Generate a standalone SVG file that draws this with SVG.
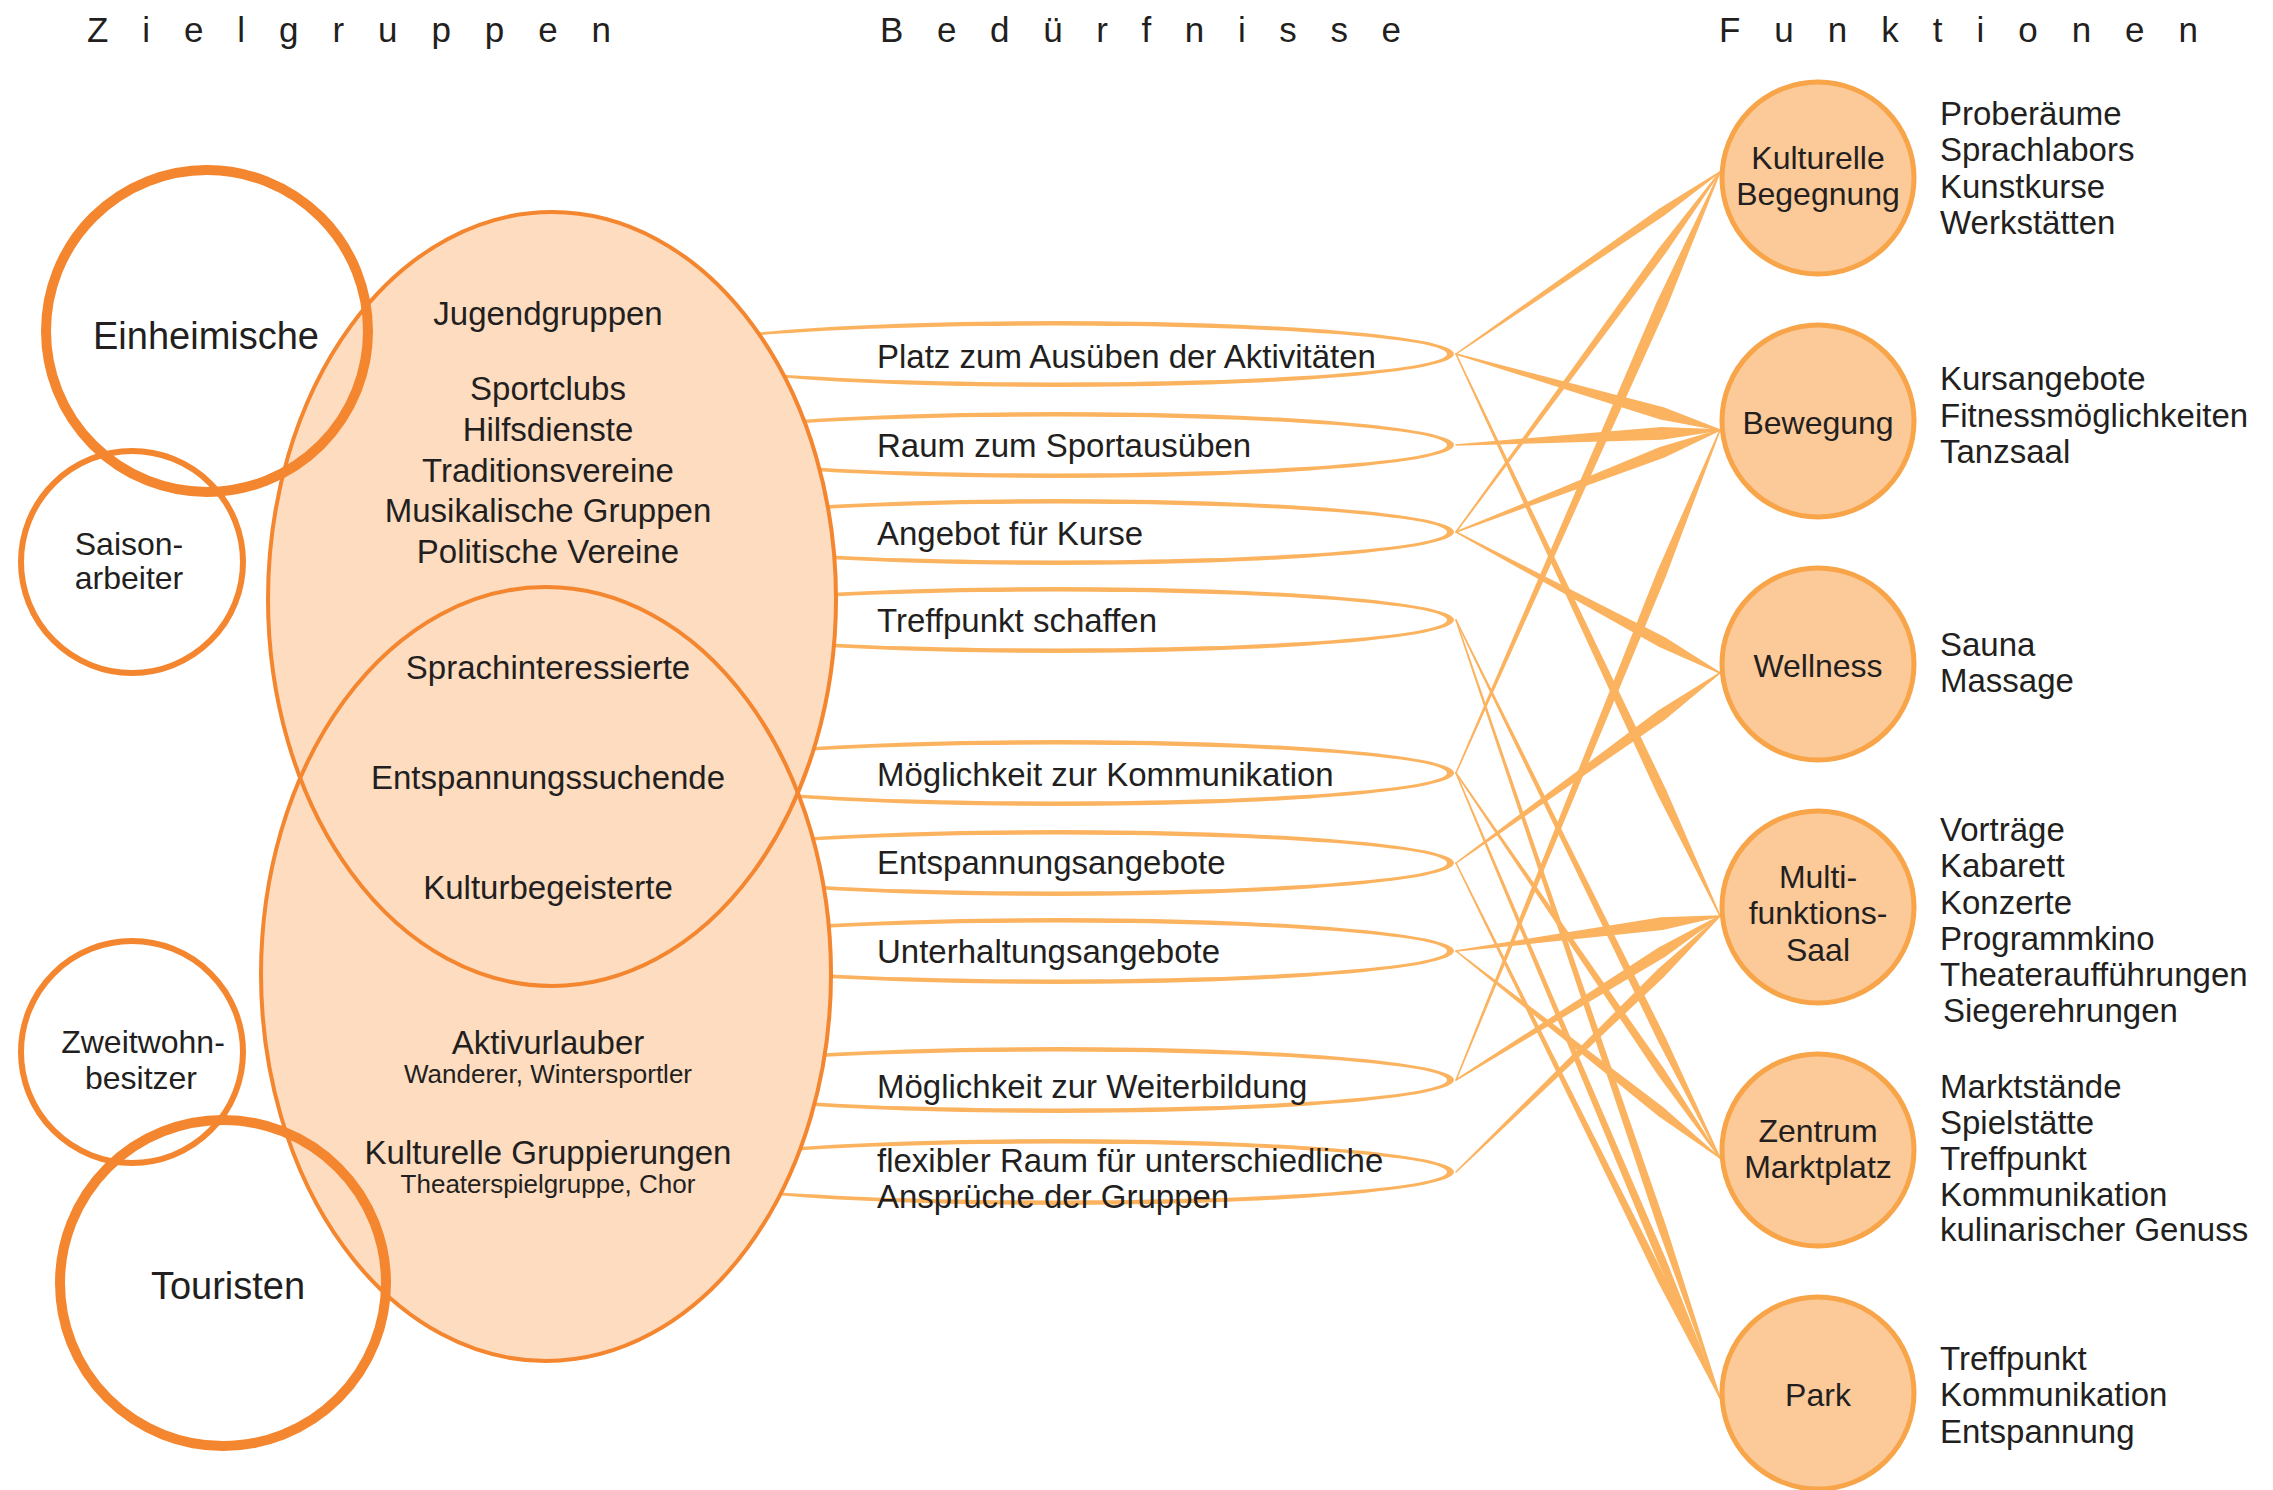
<svg xmlns="http://www.w3.org/2000/svg" width="2273" height="1490" viewBox="0 0 2273 1490">
<defs>
<style>
.t{font-family:"Liberation Sans",Arial,sans-serif;fill:#231F20}
.hd{font-size:35px}
.g{font-size:33px;text-anchor:middle}
.gs{font-size:26px;text-anchor:middle}
.zg{font-size:38px;text-anchor:middle}
.zs{font-size:32px;text-anchor:middle}
.nd{font-size:33px}
.fn{font-size:32px;text-anchor:middle}
.ls{font-size:33px}
.ring{fill:none;stroke:#F4862F}
.big{fill:#FDDCC0}
.bigs{fill:none;stroke:#F4862F;stroke-width:4}
.need{fill:#FBB360;fill-rule:evenodd}
.con{fill:#FBB360;stroke:#FBB360;stroke-width:1.5;stroke-linejoin:round}
.fc{fill:#FCC998;stroke:#F8A449;stroke-width:5}
</style>
<path id="needring" d="M662,0 A396,33 0 1 0 1454,0 A396,33 0 1 0 662,0 Z M662,0 A392.5,28.5 0 1 0 1447,0 A392.5,28.5 0 1 0 662,0 Z"/>
</defs>
<rect width="2273" height="1490" fill="#FFFFFF"/>

<g id="headers">
<text class="t hd" x="87" y="42" textLength="524" lengthAdjust="spacing">Zielgruppen</text>
<text class="t hd" x="880" y="42" textLength="521" lengthAdjust="spacing">Bedürfnisse</text>
<text class="t hd" x="1719" y="42" textLength="479" lengthAdjust="spacing">Funktionen</text>
</g>

<g id="needs">
<use href="#needring" class="need" transform="translate(0,354)"/>
<use href="#needring" class="need" transform="translate(0,445)"/>
<use href="#needring" class="need" transform="translate(0,532)"/>
<use href="#needring" class="need" transform="translate(0,620)"/>
<use href="#needring" class="need" transform="translate(0,773)"/>
<use href="#needring" class="need" transform="translate(0,863)"/>
<use href="#needring" class="need" transform="translate(0,951)"/>
<use href="#needring" class="need" transform="translate(0,1080)"/>
<use href="#needring" class="need" transform="translate(0,1172)"/>
</g>

<g id="zielgruppen-ellipsen">
<ellipse class="big" cx="552" cy="599" rx="284" ry="387"/>
<ellipse class="big" cx="546" cy="974" rx="285" ry="387"/>
<ellipse class="bigs" cx="552" cy="599" rx="284" ry="387"/>
<ellipse class="bigs" cx="546" cy="974" rx="285" ry="387"/>
</g>

<g id="node-einheimische">
<circle class="ring" cx="207" cy="331" r="161" stroke-width="10"/>
<text class="t zg" x="206" y="349">Einheimische</text>
</g>
<g id="node-saisonarbeiter">
<circle class="ring" cx="132" cy="562" r="111" stroke-width="6"/>
<text class="t zs" x="129" y="555">Saison-</text>
<text class="t zs" x="129" y="589">arbeiter</text>
</g>
<g id="node-zweitwohnbesitzer">
<circle class="ring" cx="132" cy="1052" r="111" stroke-width="6"/>
<text class="t zs" x="143" y="1053">Zweitwohn-</text>
<text class="t zs" x="141" y="1089">besitzer</text>
</g>
<g id="node-touristen">
<circle class="ring" cx="223" cy="1283" r="163" stroke-width="10"/>
<text class="t zg" x="228" y="1299">Touristen</text>
</g>

<g id="gruppen-texte">
<text class="t g" x="548" y="325">Jugendgruppen</text>
<text class="t g" x="548" y="400">Sportclubs</text>
<text class="t g" x="548" y="441">Hilfsdienste</text>
<text class="t g" x="548" y="482">Traditionsvereine</text>
<text class="t g" x="548" y="522">Musikalische Gruppen</text>
<text class="t g" x="548" y="563">Politische Vereine</text>
<text class="t g" x="548" y="679">Sprachinteressierte</text>
<text class="t g" x="548" y="789">Entspannungssuchende</text>
<text class="t g" x="548" y="899">Kulturbegeisterte</text>
<text class="t g" x="548" y="1054">Aktivurlauber</text>
<text class="t gs" x="548" y="1083">Wanderer, Wintersportler</text>
<text class="t g" x="548" y="1164">Kulturelle Gruppierungen</text>
<text class="t gs" x="548" y="1193">Theaterspielgruppe, Chor</text>
</g>

<g id="need-texte">
<text class="t nd" x="877" y="368">Platz zum Ausüben der Aktivitäten</text>
<text class="t nd" x="877" y="457">Raum zum Sportausüben</text>
<text class="t nd" x="877" y="545">Angebot für Kurse</text>
<text class="t nd" x="877" y="632">Treffpunkt schaffen</text>
<text class="t nd" x="877" y="786">Möglichkeit zur Kommunikation</text>
<text class="t nd" x="877" y="874">Entspannungsangebote</text>
<text class="t nd" x="877" y="963">Unterhaltungsangebote</text>
<text class="t nd" x="877" y="1098">Möglichkeit zur Weiterbildung</text>
<text class="t nd" x="877" y="1172">flexibler Raum für unterschiedliche</text>
<text class="t nd" x="877" y="1208">Ansprüche der Gruppen</text>
</g>

<g id="connectors">
<polygon class="con" points="1456,354 1663.9,214.9 1720,172 1659.9,209.1"/>
<polygon class="con" points="1456,532 1664.7,253.3 1720,172 1659.1,249.1"/>
<polygon class="con" points="1456,773 1666.4,306.2 1720,172 1657.4,302.2"/>
<polygon class="con" points="1456,354 1660.4,418.7 1720,430 1663.5,407.9"/>
<polygon class="con" points="1456,445 1662.2,438.9 1720,430 1661.6,427.7"/>
<polygon class="con" points="1456,532 1663.7,457.0 1720,430 1660.1,447.8"/>
<polygon class="con" points="1456,1080 1665.8,574.6 1720,430 1658.0,571.4"/>
<polygon class="con" points="1456,532 1659.6,646.3 1720,673 1664.2,637.7"/>
<polygon class="con" points="1456,863 1664.8,718.8 1720,673 1659.0,710.8"/>
<polygon class="con" points="1456,354 1658.1,794.2 1720,916 1665.7,790.6"/>
<polygon class="con" points="1456,951 1662.6,929.3 1720,916 1661.2,918.1"/>
<polygon class="con" points="1456,1080 1664.5,956.3 1720,916 1659.3,947.9"/>
<polygon class="con" points="1456,1172 1664.8,975.1 1720,916 1659.0,969.1"/>
<polygon class="con" points="1456,620 1658.8,1041.1 1720,1158 1665.0,1038.1"/>
<polygon class="con" points="1456,773 1659.0,1075.3 1720,1158 1664.8,1071.3"/>
<polygon class="con" points="1456,951 1659.3,1115.8 1720,1158 1664.5,1109.2"/>
<polygon class="con" points="1456,620 1658.6,1227.9 1720,1398 1665.2,1225.7"/>
<polygon class="con" points="1456,773 1658.7,1261.9 1720,1398 1665.1,1259.1"/>
<polygon class="con" points="1456,863 1658.8,1281.9 1720,1398 1665.0,1278.8"/>
</g>

<g id="node-kulturelle-begegnung">
<circle class="fc" cx="1818" cy="178" r="96"/>
<text class="t fn" x="1818" y="169">Kulturelle</text>
<text class="t fn" x="1818" y="205">Begegnung</text>
</g>
<g id="node-bewegung">
<circle class="fc" cx="1818" cy="421" r="96"/>
<text class="t fn" x="1818" y="434">Bewegung</text>
</g>
<g id="node-wellness">
<circle class="fc" cx="1818" cy="664" r="96"/>
<text class="t fn" x="1818" y="677">Wellness</text>
</g>
<g id="node-multifunktionssaal">
<circle class="fc" cx="1818" cy="907" r="96"/>
<text class="t fn" x="1818" y="888">Multi-</text>
<text class="t fn" x="1818" y="924">funktions-</text>
<text class="t fn" x="1818" y="961">Saal</text>
</g>
<g id="node-zentrum-marktplatz">
<circle class="fc" cx="1818" cy="1150" r="96"/>
<text class="t fn" x="1818" y="1142">Zentrum</text>
<text class="t fn" x="1818" y="1178">Marktplatz</text>
</g>
<g id="node-park">
<circle class="fc" cx="1818" cy="1393" r="96"/>
<text class="t fn" x="1818" y="1406">Park</text>
</g>

<g id="funktions-listen">
<text class="t ls" x="1940" y="125">Proberäume</text>
<text class="t ls" x="1940" y="161">Sprachlabors</text>
<text class="t ls" x="1940" y="198">Kunstkurse</text>
<text class="t ls" x="1940" y="234">Werkstätten</text>
<text class="t ls" x="1940" y="390">Kursangebote</text>
<text class="t ls" x="1940" y="427">Fitnessmöglichkeiten</text>
<text class="t ls" x="1940" y="463">Tanzsaal</text>
<text class="t ls" x="1940" y="656">Sauna</text>
<text class="t ls" x="1940" y="692">Massage</text>
<text class="t ls" x="1940" y="841">Vorträge</text>
<text class="t ls" x="1940" y="877">Kabarett</text>
<text class="t ls" x="1940" y="914">Konzerte</text>
<text class="t ls" x="1940" y="950">Programmkino</text>
<text class="t ls" x="1940" y="986">Theateraufführungen</text>
<text class="t ls" x="1943" y="1022">Siegerehrungen</text>
<text class="t ls" x="1940" y="1098">Marktstände</text>
<text class="t ls" x="1940" y="1134">Spielstätte</text>
<text class="t ls" x="1940" y="1170">Treffpunkt</text>
<text class="t ls" x="1940" y="1206">Kommunikation</text>
<text class="t ls" x="1940" y="1241">kulinarischer Genuss</text>
<text class="t ls" x="1940" y="1370">Treffpunkt</text>
<text class="t ls" x="1940" y="1406">Kommunikation</text>
<text class="t ls" x="1940" y="1443">Entspannung</text>
</g>
</svg>
